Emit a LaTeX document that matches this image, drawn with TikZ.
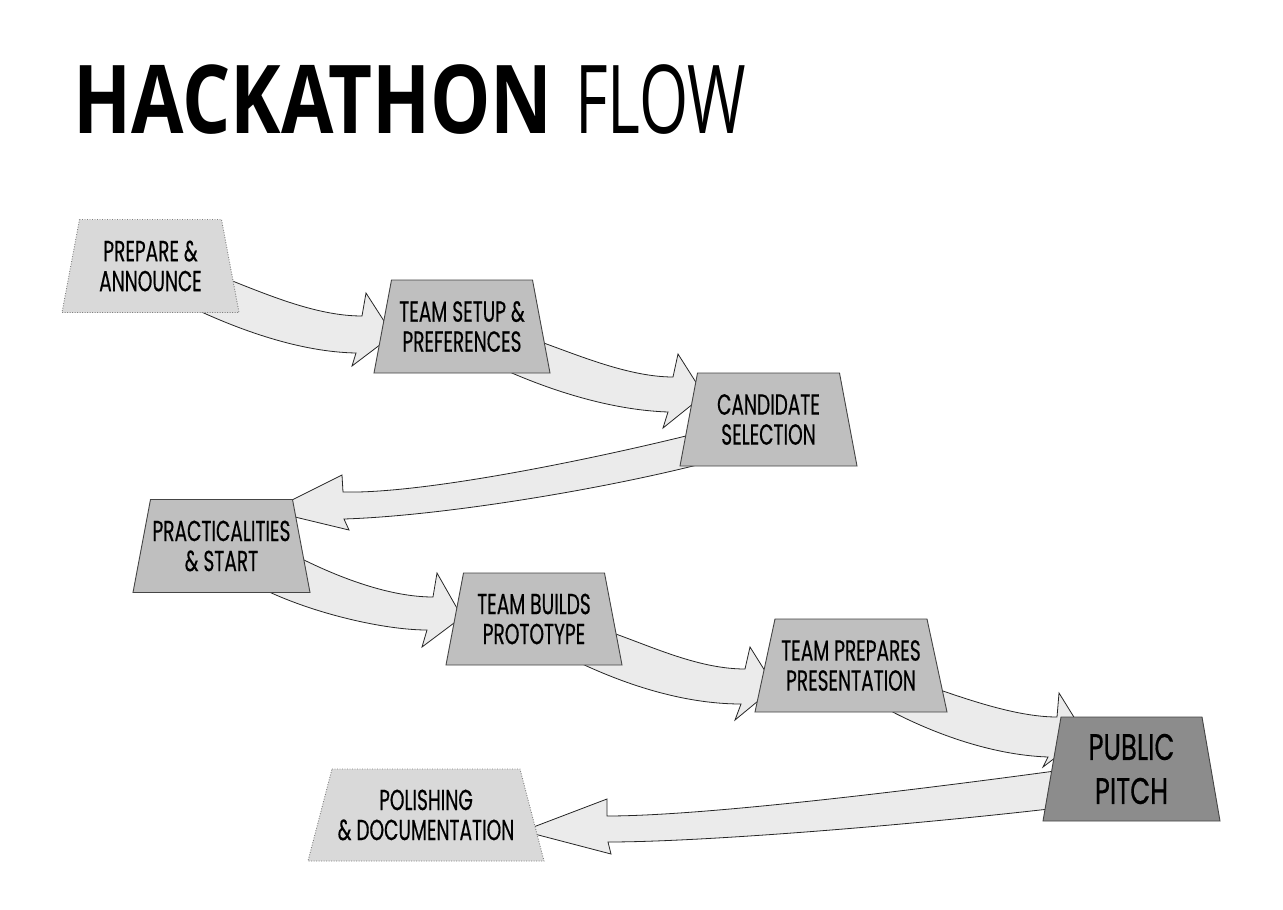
\documentclass[tikz,border=0pt]{standalone}
\usepackage{fontspec}
\usetikzlibrary{calc,backgrounds}
\newfontfamily\lblfont[FakeStretch=0.64,FakeBold=0.4]{Poppins}
\newfontfamily\pitchfont[FakeStretch=0.7,FakeBold=0.4]{Poppins}
\newfontfamily\ttlbold[FakeStretch=0.8]{Open Sans}
\newfontfamily\ttlreg[FakeStretch=0.665]{Open Sans}
\pgfdeclarelayer{shapes}
\pgfsetlayers{background,shapes,main}
\definecolor{lightbox}{HTML}{D9D9D9}
\definecolor{midbox}{HTML}{BFBFBF}
\definecolor{darkbox}{HTML}{8C8C8C}
\definecolor{arrowfill}{HTML}{EBEBEB}
\definecolor{edgegray}{HTML}{454545}
\newcommand\trapbox[4]{%
  \begin{pgfonlayer}{shapes}
    \path[#3,fill=#4] ($(#1.north west)+(#2,0)$) -- ($(#1.north east)+(-#2,0)$)
      -- (#1.south east) -- (#1.south west) -- cycle;
  \end{pgfonlayer}}
\begin{document}
\begin{tikzpicture}[x=1pt,y=-1pt,
  lbl/.style={rectangle,inner sep=0pt,outer sep=0pt,align=center,
    font=\lblfont\fontsize{29}{30}\selectfont},
  bigl/.style={lbl,font=\pitchfont\fontsize{37}{44}\selectfont},
  solidedge/.style={draw=edgegray,line width=0.9pt},
  dotedge/.style={draw=gray,line width=0.9pt,dash pattern=on 0.9pt off 1.6pt},
  blockarrow/.style={draw=black!85,line width=0.8pt,fill=arrowfill,line join=miter}]
\path[use as bounding box] (0,0) rectangle (1283,910);
% title
\node[anchor=base west,inner sep=0pt,font=\ttlbold\bfseries\fontsize{95}{100}\selectfont] (t1) at (73,133) {HACKATHON};
\node[anchor=base west,inner sep=0pt,font=\ttlreg\fontsize{95}{100}\selectfont] (t2) at (575,133) {FLOW};
% nodes
\node[lbl,minimum width=177,minimum height=93] (prep) at (150.5,266) {PREPARE \&\\ANNOUNCE};
\node[lbl,minimum width=176,minimum height=93] (setup) at (462,326.5) {TEAM SETUP \&\\PREFERENCES};
\node[lbl,minimum width=177,minimum height=93] (cand) at (768.5,419.5) {CANDIDATE\\SELECTION};
\node[lbl,minimum width=177,minimum height=93] (prac) at (221.5,546) {PRACTICALITIES\\\& START};
\node[lbl,minimum width=176,minimum height=92] (build) at (534,619) {TEAM BUILDS\\PROTOTYPE};
\node[lbl,minimum width=192,minimum height=93] (pres) at (851,665.5) {TEAM PREPARES\\PRESENTATION};
\node[bigl,minimum width=177,minimum height=104] (pitch) at (1131.5,769) {PUBLIC\\PITCH};
\node[lbl,minimum width=236,minimum height=92] (polish) at (426,815) {POLISHING\\\& DOCUMENTATION};
% trapezoid bodies
\trapbox{prep}{17.5}{dotedge}{lightbox}
\trapbox{setup}{17.5}{solidedge}{midbox}
\trapbox{cand}{17.5}{solidedge}{midbox}
\trapbox{prac}{17.5}{solidedge}{midbox}
\trapbox{build}{17.5}{solidedge}{midbox}
\trapbox{pres}{20}{solidedge}{midbox}
\trapbox{pitch}{18}{solidedge}{darkbox}
\trapbox{polish}{24}{dotedge}{lightbox}
% block arrows (under the boxes)
\begin{scope}[on background layer]
\fill[white] (0,0) rectangle (1283,910);
\draw[blockarrow] (230,280) .. controls (275,298) and (320,316) .. (362,316)
  -- (366,293) -- (393,335) -- (352,366) -- (356,353)
  .. controls (300,352) and (240,330) .. (195,309) -- cycle;
\draw[blockarrow] (541,342) .. controls (580,356) and (630,377) .. (673,377)
  -- (678,354) -- (704,395) -- (663,428) -- (668,412)
  .. controls (610,410) and (550,390) .. (505,370) -- cycle;
\draw[blockarrow] (690,435) .. controls (580,462) and (420,494) .. (343,492)
  -- (342,475) -- (270,511) -- (349,530) -- (344,519)
  .. controls (440,516) and (600,490) .. (705,463) -- cycle;
\draw[blockarrow] (300,558) .. controls (340,578) and (390,597) .. (433,597)
  -- (437,573) -- (462,617) -- (422,647) -- (427,630)
  .. controls (385,630) and (315,614) .. (265,590) -- cycle;
\draw[blockarrow] (613,633) .. controls (655,648) and (700,669) .. (745,669)
  -- (750,647) -- (775,687) -- (735,720) -- (741,704)
  .. controls (680,704) and (620,682) .. (578,662) -- cycle;
\draw[blockarrow] (940,690) .. controls (975,702) and (1020,717) .. (1057,717)
  -- (1059,693) -- (1085,735) -- (1043,767) -- (1048,757)
  .. controls (990,755) and (930,732) .. (887,709) -- cycle;
\draw[blockarrow] (1055,771) .. controls (900,792) and (700,816) .. (607,816)
  -- (607,799) -- (523,831) -- (611,854) -- (608,842)
  .. controls (700,842) and (900,826) .. (1049,809) -- cycle;
\end{scope}
\end{tikzpicture}
\end{document}
